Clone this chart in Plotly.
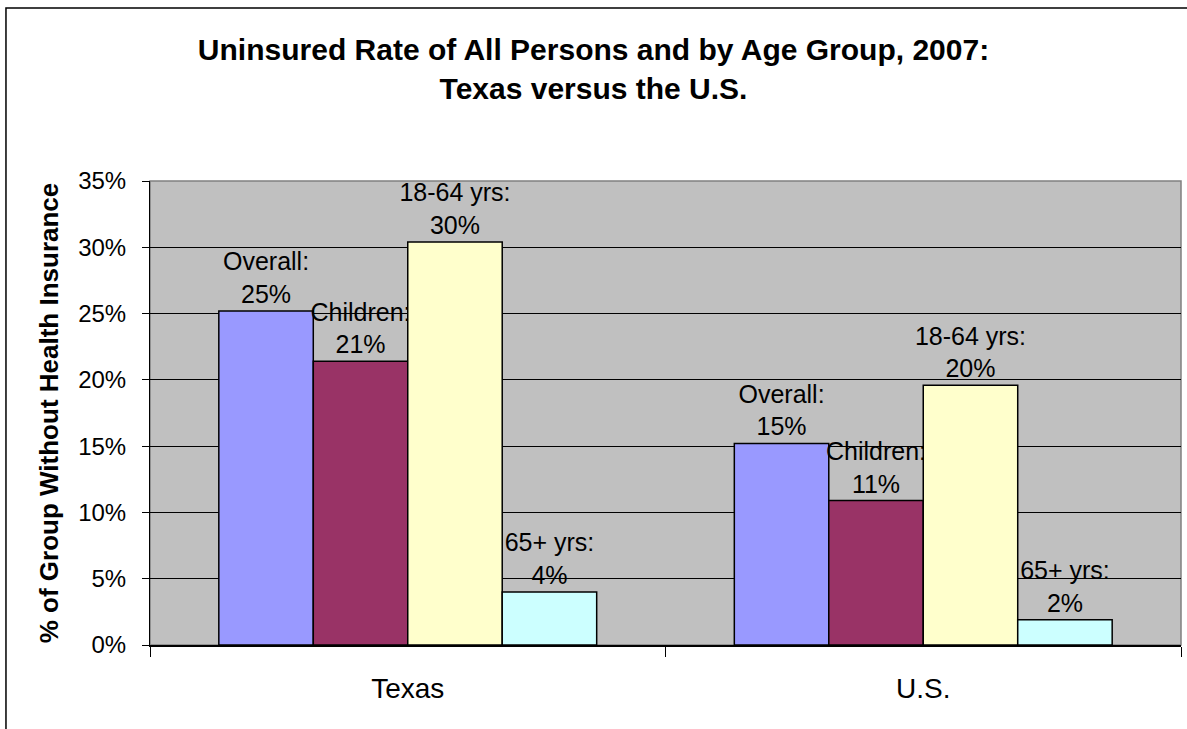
import plotly.graph_objects as go

regions = ["Texas", "U.S."]
groups = ["Overall", "Children", "18-64 yrs", "65+ yrs"]
overall = [25.2, 15.2]
children = [21.4, 10.9]
adults = [30.4, 19.6]
seniors = [4.0, 1.9]
y_ticks = [0, 5, 10, 15, 20, 25, 30, 35]
y_labels = [f"{v}%" for v in y_ticks]

colors = ["#9999FF", "#993366", "#FFFFCC", "#CCFFFF"]
font = "Liberation Sans, Arial, sans-serif"

fig = go.Figure()
for name, vals, col in zip(groups, [overall, children, adults, seniors], colors):
    fig.add_trace(go.Bar(
        x=regions, y=vals, name=name,
        marker=dict(color=col, line=dict(color="black", width=1.5)),
        texttemplate=name + ":<br>%{y:.0f}%",
        textposition="outside",
        textfont=dict(size=25, color="black", family=font),
        constraintext="none",
        cliponaxis=False,
    ))

fig.update_layout(
    width=1187, height=729,
    margin=dict(l=150, r=6, t=181, b=84),
    barmode="group", bargap=0.267, bargroupgap=0,
    plot_bgcolor="#C0C0C0", paper_bgcolor="white",
    showlegend=False,
    font=dict(family=font, color="black"),
    title=dict(
        text="Uninsured Rate of All Persons and by Age Group, 2007:<br>Texas versus the U.S.",
        x=0.5, xanchor="center", y=0.918, yanchor="middle",
        font=dict(size=30, family=font, color="black", weight="bold"),
    ),
)

fig.update_yaxes(
    range=[0, 35], tickvals=y_ticks, ticktext=y_labels,
    showgrid=True, gridcolor="black", gridwidth=1,
    showline=True, linecolor="black", linewidth=1,
    ticks="outside", ticklen=7, tickcolor="black",
    tickfont=dict(size=24), ticklabelstandoff=11,
    zeroline=False,
    title=dict(text="<b>% of Group Without Health Insurance</b>",
               font=dict(size=26), standoff=12),
)
fig.update_xaxes(
    showline=True, linecolor="black", linewidth=1.5,
    ticks="outside", tickson="boundaries", ticklen=10, tickcolor="black",
    tickfont=dict(size=28), ticklabelstandoff=18,
    showgrid=False,
)

# gray plot-area border (top/right) and outer chart frame
fig.add_shape(type="rect", xref="paper", yref="paper", x0=0, x1=1, y0=0, y1=1,
              line=dict(color="#808080", width=1.5), layer="below")
fig.add_shape(type="path", xref="paper", yref="paper",
              path="M -0.1397,-0.25 L -0.1397,1.3728 L 1.02,1.3728",
              line=dict(color="black", width=1.5))

fig.write_html("out.html", config={"displayModeBar": False},
               post_script="document.body.style.margin='0px';")
